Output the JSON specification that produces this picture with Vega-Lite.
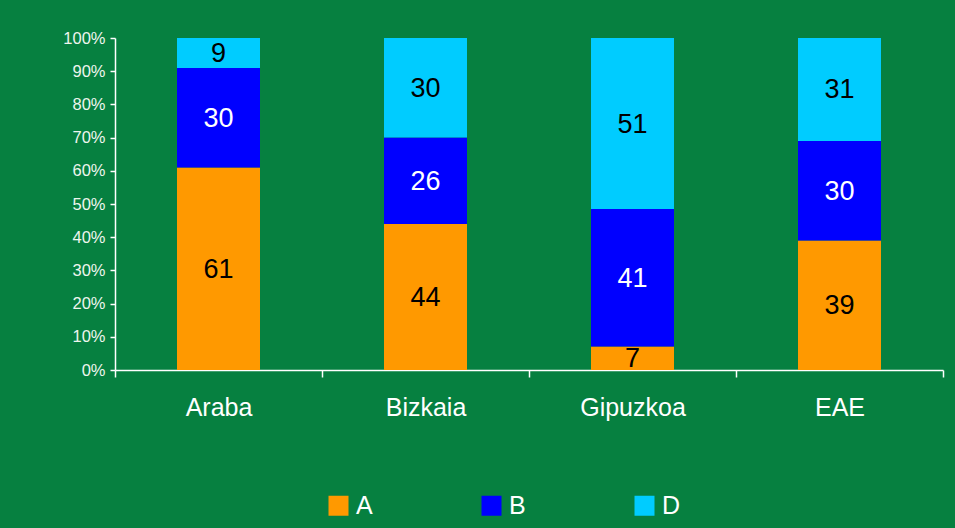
{
  "$schema": "https://vega.github.io/schema/vega-lite/v6.json",
  "autosize": {"type": "none"},
  "width": 828,
  "height": 332,
  "padding": {"left": 115, "top": 38, "right": 12, "bottom": 158},
  "background": "#068040",
  "config": {"view": {"stroke": null}, "font": "Liberation Sans"},
  "data": {
    "values": [
      {"cat": "Araba", "grp": "A", "v": 61},
      {"cat": "Araba", "grp": "B", "v": 30},
      {"cat": "Araba", "grp": "D", "v": 9},
      {"cat": "Bizkaia", "grp": "A", "v": 44},
      {"cat": "Bizkaia", "grp": "B", "v": 26},
      {"cat": "Bizkaia", "grp": "D", "v": 30},
      {"cat": "Gipuzkoa", "grp": "A", "v": 7},
      {"cat": "Gipuzkoa", "grp": "B", "v": 41},
      {"cat": "Gipuzkoa", "grp": "D", "v": 51},
      {"cat": "EAE", "grp": "A", "v": 39},
      {"cat": "EAE", "grp": "B", "v": 30},
      {"cat": "EAE", "grp": "D", "v": 31}
    ]
  },
  "transform": [
    {"stack": "v", "groupby": ["cat"], "sort": [{"field": "grp", "order": "ascending"}], "offset": "normalize", "as": ["v0", "v1"]},
    {"calculate": "(datum.v0 + datum.v1) / 2", "as": "mid"}
  ],
  "encoding": {
    "x": {
      "field": "cat", "type": "nominal", "sort": null,
      "scale": {"paddingInner": 0, "paddingOuter": 0},
      "axis": {
        "title": null, "labelAngle": 0, "tickBand": "extent",
        "domainColor": "white", "domainWidth": 1.5, "tickColor": "white", "tickWidth": 1.5,
        "tickSize": 7, "labelColor": "white", "labelFontSize": 25, "labelPadding": 18,
        "labelFont": "Liberation Sans"
      }
    }
  },
  "resolve": {"axis": {"y": "independent"}},
  "layer": [
    {
      "mark": {"type": "bar", "size": 83},
      "encoding": {
        "y": {
          "field": "v0", "type": "quantitative",
          "scale": {"domain": [0, 1], "nice": false},
          "axis": {
            "title": null, "format": ".0%", "values": [0, 0.1, 0.2, 0.3, 0.4, 0.5, 0.6, 0.7, 0.8, 0.9, 1],
            "labelOverlap": false, "labelFlush": false,
            "grid": false, "domainColor": "white", "domainWidth": 1.5, "tickColor": "white", "tickWidth": 1.5,
            "tickSize": 5, "labelColor": "#eef5ee", "labelFontSize": 16.5, "labelPadding": 5,
            "labelFont": "Liberation Sans"
          }
        },
        "y2": {"field": "v1"},
        "color": {
          "field": "grp", "type": "nominal",
          "scale": {"domain": ["A", "B", "D"], "range": ["#FF9900", "#0000FF", "#00CCFF"]},
          "legend": {
            "title": null, "orient": "none", "legendX": 211, "legendY": 455,
            "direction": "horizontal", "symbolType": "square", "symbolSize": 400,
            "symbolStrokeWidth": 0, "labelColor": "white", "labelFontSize": 25,
            "labelFont": "Liberation Sans", "labelOffset": 5, "columnPadding": 106, "padding": 0
          }
        }
      }
    },
    {
      "mark": {"type": "text", "fontSize": 27, "font": "Liberation Sans", "baseline": "middle", "dy": 1},
      "encoding": {
        "y": {"field": "mid", "type": "quantitative", "axis": null},
        "text": {"field": "v", "type": "quantitative"},
        "color": {"condition": {"test": "datum.grp === 'B'", "value": "white"}, "value": "black"}
      }
    }
  ]
}
